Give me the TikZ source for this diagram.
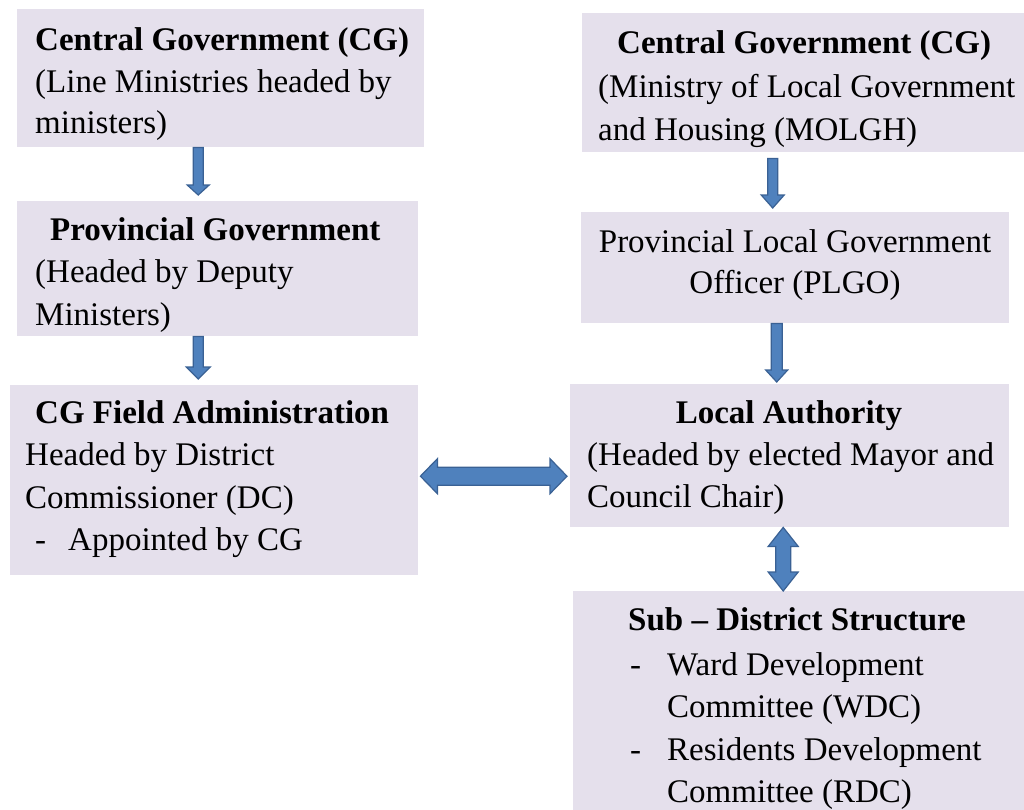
\documentclass[tikz,border=0pt]{standalone}
\usepackage{fontspec}
\setmainfont{Liberation Serif}
\usetikzlibrary{calc}

\definecolor{boxfill}{HTML}{E5E0EC}
\definecolor{arrowfill}{HTML}{4F81BD}
\definecolor{arrowedge}{HTML}{3A6194}

% block arrow pointing down: #1 tail point, #2 tip point (only its y is used),
% #3 shaft width, #4 head width, #5 head length
\newcommand\blockdown[5]{%
  \draw[blockarrow] let \p1=(#1), \p2=(#2) in
    (\x1-#3/2,\y1) -- (\x1+#3/2,\y1) -- (\x1+#3/2,\y2+#5) -- (\x1+#4/2,\y2+#5)
    -- (\x1,\y2) -- (\x1-#4/2,\y2+#5) -- (\x1-#3/2,\y2+#5) -- cycle;}
% vertical double-headed block arrow: #1 upper tip, #2 lower tip (only y used)
\newcommand\blockvv[5]{%
  \draw[blockarrow] let \p1=(#1), \p2=(#2) in
    (\x1,\y1) -- (\x1+#4/2,\y1-#5) -- (\x1+#3/2,\y1-#5) -- (\x1+#3/2,\y2+#5)
    -- (\x1+#4/2,\y2+#5) -- (\x1,\y2) -- (\x1-#4/2,\y2+#5) -- (\x1-#3/2,\y2+#5)
    -- (\x1-#3/2,\y1-#5) -- (\x1-#4/2,\y1-#5) -- cycle;}
% horizontal double-headed block arrow: #1 left tip, #2 right tip (only x used)
\newcommand\blockhh[5]{%
  \draw[blockarrow] let \p1=(#1), \p2=(#2) in
    (\x1,\y1) -- (\x1+#5,\y1+#4/2) -- (\x1+#5,\y1+#3/2) -- (\x2-#5,\y1+#3/2)
    -- (\x2-#5,\y1+#4/2) -- (\x2,\y1) -- (\x2-#5,\y1-#4/2) -- (\x2-#5,\y1-#3/2)
    -- (\x1+#5,\y1-#3/2) -- (\x1+#5,\y1-#4/2) -- cycle;}

\tikzset{
  box/.style={rectangle, fill=boxfill, draw=none, anchor=north west, inner sep=0pt},
  txt/.style={font=\fontsize{33}{40}\selectfont, inner sep=0pt, text=black, anchor=base west},
  txtc/.style={txt, anchor=base},
  blockarrow/.style={fill=arrowfill, draw=arrowedge, line width=1.2pt, line join=miter}
}

\begin{document}
\begin{tikzpicture}[x=1pt, y=-1pt]
\useasboundingbox (0,0) rectangle (1024,809);
\fill[white] (0,0) rectangle (1024,809);
\clip (0,0) rectangle (1024,809);

% ---- left column: central government line ----
\node[box, minimum width=407pt, minimum height=138pt] (cgL) at (17,9) {};
\node[txt] (cgL1) at (35,50) {\bfseries Central Government (CG)};
\node[txt] (cgL2) at (35,92) {(Line Ministries headed by};
\node[txt] (cgL3) at (35,133) {ministers)};

\node[box, minimum width=401pt, minimum height=135pt] (pg) at (17,201) {};
\node[txt] (pg1) at (50,240) {\bfseries Provincial Government};
\node[txt] (pg2) at (35,282) {(Headed by Deputy};
\node[txt] (pg3) at (35,325) {Ministers)};

\node[box, minimum width=408pt, minimum height=190pt] (fa) at (10,385) {};
\node[txt] (fa1) at (35,423) {\bfseries CG Field Administration};
\node[txt] (fa2) at (25,465) {Headed by District};
\node[txt] (fa3) at (25,508) {Commissioner (DC)};
\node[txt] (fa4) at (35,550) {-};
\node[txt] (fa5) at (68,550) {Appointed by CG};

% ---- right column: local government line ----
\node[box, minimum width=448pt, minimum height=139pt] (cgR) at (582,13) {};
\node[txt] (cgR1) at (617,53) {\bfseries Central Government (CG)};
\node[txt] (cgR2) at (598,97) {(Ministry of Local Government};
\node[txt] (cgR3) at (598,140) {and Housing (MOLGH)};

\node[box, minimum width=428pt, minimum height=111pt] (plgo) at (581,212) {};
\node[txtc] (plgo1) at (795,252) {Provincial Local Government};
\node[txtc] (plgo2) at (795,293) {Officer (PLGO)};

\node[box, minimum width=439pt, minimum height=143pt] (la) at (570,384) {};
\node[txtc] (la1) at (789,423) {\bfseries Local Authority};
\node[txt] (la2) at (587,465) {(Headed by elected Mayor and};
\node[txt] (la3) at (587,507) {Council Chair)};

\node[box, minimum width=460pt, minimum height=230pt] (sd) at (573,591) {};
\node[txt] (sd1) at (628,630) {\bfseries Sub -- District Structure};
\node[txt] (sd2) at (630,675) {-};
\node[txt] (sd3) at (667,675) {Ward Development};
\node[txt] (sd4) at (667,717) {Committee (WDC)};
\node[txt] (sd5) at (630,760) {-};
\node[txt] (sd6) at (667,760) {Residents Development};
\node[txt] (sd7) at (667,802) {Committee (RDC)};

% ---- connectors ----
\blockdown{[xshift=-22.5pt]cgL.south}{[yshift=6pt]pg.north}{10pt}{22pt}{10pt}
\blockdown{[xshift=-19.5pt]pg.south}{[yshift=6pt]fa.north}{10pt}{24pt}{12pt}
\blockdown{[xshift=-33.5pt,yshift=-6pt]cgR.south}{[yshift=4pt]plgo.north}{10pt}{23pt}{13pt}
\blockdown{[xshift=-18.5pt]plgo.south}{[yshift=2pt]la.north}{11pt}{22pt}{12pt}
\blockhh{[xshift=2pt,yshift=4pt]fa.east}{[xshift=-3pt]la.west}{18pt}{35pt}{17pt}
\blockvv{[xshift=-6.5pt]la.south}{sd.north}{15pt}{30pt}{19pt}
\end{tikzpicture}
\end{document}
